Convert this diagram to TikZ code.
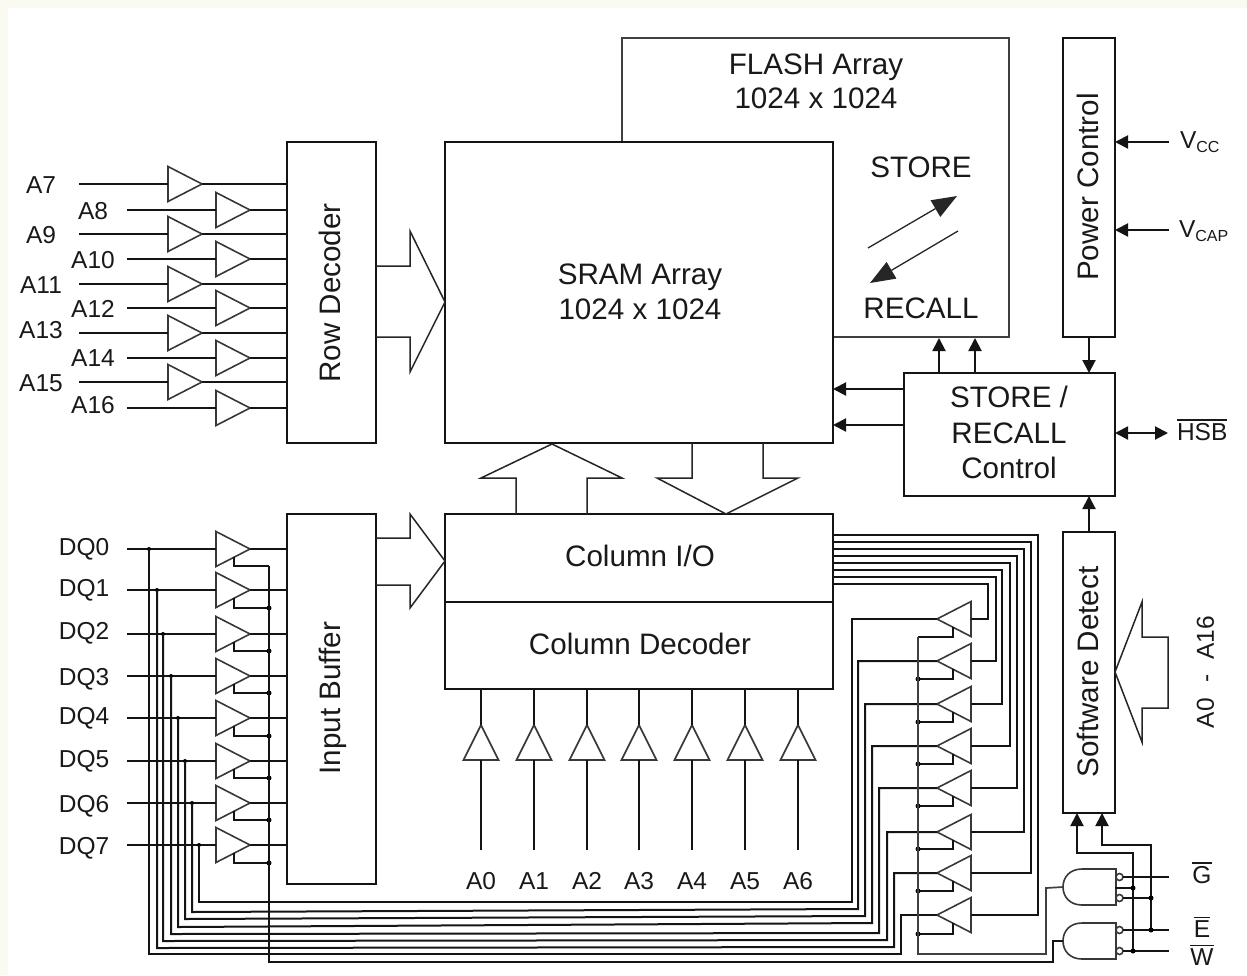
\documentclass[tikz,border=0pt]{standalone}
\usepackage{graphicx}
\usepackage{fontspec}
\setmainfont{Liberation Sans}
\usetikzlibrary{arrows.meta}
\definecolor{creamedge}{HTML}{FBFAF1}
\newcommand\ovl[1]{\leavevmode\vbox{\hrule height 1.4pt\kern 2.2pt\hbox{#1}}}
\newcommand\bufR[3]{\draw[tri] (#2,#3-17.5) -- (#2+34,#3) -- (#2,#3+17.5) -- cycle;
  \coordinate (#1-in) at (#2,#3); \coordinate (#1-out) at (#2+34,#3);}
\newcommand\bufL[3]{\draw[tri] (#2+34,#3-17.5) -- (#2,#3) -- (#2+34,#3+17.5) -- cycle;
  \coordinate (#1-in) at (#2+34,#3); \coordinate (#1-out) at (#2,#3);}
\newcommand\bufU[3]{\draw[tri] (#2-17.5,#3+35) -- (#2,#3) -- (#2+17.5,#3+35) -- cycle;
  \coordinate (#1-in) at (#2,#3+35); \coordinate (#1-out) at (#2,#3);}
\newcommand\gateshape[2]{\draw[tri] (1116,#1) -- (1082,#1) .. controls (1070,#1) and (1063,#1+8) .. (1063,#1+18)
  .. controls (1063,#1+28) and (1070,#1+36) .. (1082,#1+36) -- (1116,#1+36) -- cycle;
  \coordinate (#2) at (1063,#1+18);}
\tikzset{
  box/.style={draw=black!92,line width=2.2pt,fill=white,inner sep=0,outer sep=0,anchor=north west},
  wire/.style={draw=black!92,line width=2pt,line join=miter},
  thinwire/.style={draw=black!75,line width=1.7pt},
  tri/.style={draw=black!78,line width=1.6pt,line join=miter},
  fat/.style={draw=black!85,line width=1.5pt,line join=miter},
  sig/.style={wire,-{Triangle[length=13pt,width=13pt]}},
  big/.style={inner sep=0,outer sep=0,font=\fontsize{29.6}{35}\selectfont,text height=21pt,text depth=0pt,text=black!90},
  small/.style={inner sep=0,outer sep=0,font=\fontsize{24.5}{29}\selectfont,text height=17.6pt,text depth=0pt,text=black!90},
  baselbl/.style={inner sep=0,outer sep=0,font=\fontsize{24.5}{29}\selectfont,text=black!90},
  jdot/.style={circle,fill=black,inner sep=0,minimum size=5pt},
}
\newcommand\subf[1]{{\fontsize{16}{18}\selectfont\raisebox{-4pt}{#1}}}
\begin{document}
\begin{tikzpicture}[x=1pt,y=-1pt]
\useasboundingbox (0,0) rectangle (1247,975);
\fill[creamedge] (0,0) rectangle (1247,975);
\fill[white] (8,8) rectangle (1247,975);

% ---- blocks
\node[box,draw=black!75,line width=1.5pt,minimum width=387pt,minimum height=299pt] (flash) at (622,38) {};
\node[box,minimum width=388pt,minimum height=301pt] (sram) at (445,142) {};
\node[box,minimum width=89pt,minimum height=301pt] (rowdec) at (287,142) {};
\node[box,minimum width=89pt,minimum height=370pt] (inbuf) at (287,514) {};
\node[box,minimum width=388pt,minimum height=88pt] (colio) at (445,514) {};
\node[box,minimum width=388pt,minimum height=87pt] (coldec) at (445,602) {};
\node[box,minimum width=52pt,minimum height=299pt] (power) at (1063,38) {};
\node[box,minimum width=211pt,minimum height=123pt] (ctrl) at (904,373) {};
\node[box,minimum width=52pt,minimum height=281pt] (swdet) at (1063,532) {};

% ---- block texts
\node[big] (t1) at (816,64) {FLASH Array};
\node[big] (t2) at (816,98) {1024 x 1024};
\node[big] (t3) at (921,167) {STORE};
\node[big] (t4) at (921,308) {RECALL};
\node[big] (t5) at (640,274) {SRAM Array};
\node[big] (t6) at (640,309) {1024 x 1024};
\node[big] (t7) at (640,556) {Column I/O};
\node[big] (t8) at (640,644) {Column Decoder};
\node[big] (t9) at (1009,397) {STORE /};
\node[big] (t10) at (1009,433) {RECALL};
\node[big] (t11) at (1009,468) {Control};
\node[big,rotate=90] (t12) at (330,293) {Row Decoder};
\node[big,rotate=90] (t13) at (330,698) {Input Buffer};
\node[big,rotate=90] (t14) at (1088,187) {Power Control};
\node[big,rotate=90] (t15) at (1088,672) {Software Detect};
\node[small,rotate=90] (t16) at (1205,672) {A0\hspace{0.62em}-\hspace{0.62em}A16};

% ---- fat arrows
\draw[fat] (rowdec.east |- 0,266) -- (410,266) -- (410,231) -- (sram.west |- 0,302) -- (410,372) -- (410,337) -- (rowdec.east |- 0,337);
\draw[fat] (inbuf.east |- 0,538) -- (410,538) -- (410,514) -- (colio.west |- 0,561) -- (410,608) -- (410,585) -- (inbuf.east |- 0,585);
\draw[fat] (516,514) -- (516,478) -- (481,478) -- (552,444) -- (622,478) -- (587,478) -- (587,514);
\draw[fat] (692,443) -- (692,478) -- (657,478) -- (726,514) -- (798,478) -- (763,478) -- (763,443);
\draw[fat] (1142,602) -- (1142,637) -- (1168,637) -- (1168,708) -- (1142,708) -- (1142,742) -- (swdet.east |- 0,672) -- cycle;

% ---- store / recall arrows inside flash
\coordinate (s1) at (868,248); \coordinate (s2) at (957,196);
\coordinate (r1) at (958,231); \coordinate (r2) at (870,283);
\draw[draw=black!85,line width=1.3pt,-{Triangle[length=25pt,width=19pt]}] (s1) -- (s2);
\draw[draw=black!85,line width=1.3pt,-{Triangle[length=25pt,width=19pt]}] (r1) -- (r2);

% ---- control arrows
\draw[sig] (ctrl.north -| 939,0) -- (939,338);
\draw[sig] (ctrl.north -| 975,0) -- (975,338);
\draw[sig] (ctrl.west |- 0,389) -- (sram.east |- 0,389);
\draw[sig] (ctrl.west |- 0,425) -- (sram.east |- 0,425);
\draw[sig] (power.south) -- (ctrl.north -| power.south);
\draw[sig] (swdet.north) -- (ctrl.south -| swdet.north);
\coordinate (vcc) at (1169,142); \coordinate (vcap) at (1169,230); \coordinate (hsb) at (1168,433);
\draw[sig] (vcc) -- (power.east |- vcc);
\draw[sig] (vcap) -- (power.east |- vcap);
\draw[wire,{Triangle[length=13pt,width=13pt]}-{Triangle[length=13pt,width=13pt]}] (ctrl.east |- hsb) -- (hsb);
\node[baselbl,anchor=base west] (lvcc) at (1180,148) {V\subf{CC}};
\node[baselbl,anchor=base west] (lvcap) at (1179,237) {V\subf{CAP}};
\node[baselbl,anchor=base west] (lhsb) at (1177,440) {\ovl{HSB}};

% ---- row decoder inputs
\foreach \n/\lx/\ly/\sx/\bx/\y in {A7/41/185/79/168/184,A8/93/211/127/216/210,A9/41/235/79/168/234,A10/93/260/127/216/259,
  A11/41/285/79/168/284,A12/93/309/127/216/308,A13/41/330/79/168/333,A14/93/358/127/216/358,A15/41/383/79/168/382,A16/93/405/127/216/408}{
  \node[small] (l\n) at (\lx,\ly) {\n};
  \coordinate (s\n) at (\sx,\y);
  \bufR{b\n}{\bx}{\y}
  \draw[wire] (s\n) -- (b\n-in);
  \draw[wire] (b\n-out) -- (rowdec.west |- b\n-out);
}

% ---- column decoder inputs
\foreach \n/\x in {A0/481,A1/534,A2/587,A3/639,A4/692,A5/745,A6/798}{
  \node[small] (l\n) at (\x,881) {\n};
  \coordinate (s\n) at (\x,850);
  \bufU{b\n}{\x}{725}
  \draw[wire] (s\n) -- (b\n-in);
  \draw[wire] (b\n-out) -- (coldec.south -| b\n-out);
}

% ---- data lines
\coordinate (enbus) at (918,954);
\coordinate (inbus) at (269,962);
\foreach \n/\ly/\y/\en/\tap/\bl/\br/\vx/\ty/\dy/\ox/\oy in {
  DQ0/547/549/566/149/954/954/901/915/934/1038/535,
  DQ1/588/590/608/157/948/947/894/873/891/1031/542,
  DQ2/631/634/651/163/941/940/887/832/849/1024/549,
  DQ3/677/676/693/171/934/933/879/788/806/1017/556,
  DQ4/716/718/736/178/927/923/872/746/764/1010/563,
  DQ5/759/761/778/185/919/916/865/704/722/1002/570,
  DQ6/804/803/820/192/912/909/858/661/679/996/577,
  DQ7/846/845/863/199/902/902/852/619/637/988/584}{
  \node[small] (l\n) at (84,\ly) {\n};
  \coordinate (s\n) at (127,\y);
  \coordinate (tap\n) at (\tap,\y);
  \bufR{i\n}{216}{\y}
  \bufL{o\n}{937}{\ty}
  \draw[wire] (s\n) -- (i\n-in);
  \draw[wire] (i\n-out) -- (inbuf.west |- i\n-out);
  \node[jdot,minimum size=4pt] at (tap\n) {};
  \draw[wire] (tap\n) -- (\tap,\bl) -- (\vx,\br) -- (\vx,\ty) -- (o\n-out);
  \draw[wire] (colio.east |- 0,\oy) -- (\ox,\oy) -- (\ox,\ty) -- (o\n-in);
  % enables
  \draw[wire] (234,\y+8.2) -- (234,\en) -- (269,\en);
  \draw[wire] (953,\ty+8.2) -- (953,\dy) -- (918,\dy);
}
\foreach \y in {608,651,693,736,778,820,863}{\node[jdot] at (269,\y) {};}
\foreach \y in {679,722,764,806,849,891,934}{\node[jdot] at (918,\y) {};}

% ---- gates
\gateshape{869}{g1}
\gateshape{923}{g2}
\foreach \y/\n in {877/a,898/b,930/c,951/d}{
  \draw[tri] (1119.5,\y) circle (3.5);
  \coordinate (pin\n) at (1123,\y);
}
\coordinate (lG) at (1169,877); \coordinate (lE) at (1169,930); \coordinate (lW) at (1169,951);
\draw[wire] (pina) -- (lG);
\draw[wire] (pinc) -- (lE);
\draw[wire] (pind) -- (lW);
\draw[wire] (pinb) -- (1151,898);
\draw[wire] (1115,888) -- (1133,888);
\draw[sig] (1133,951) -- (1133,853) -- (1077,853) -- (swdet.south -| 1077,0);
\draw[sig] (1151,930) -- (1151,845) -- (1102,845) -- (swdet.south -| 1102,0);
\node[jdot] at (1133,888) {};
\node[jdot] at (1133,951) {};
\node[jdot] at (1151,898) {};
\node[jdot] at (1151,930) {};
\node[baselbl,anchor=base] (tG) at (1202,883) {\ovl{G}};
\node[baselbl,anchor=base] (tE) at (1202,937) {\ovl{E}};
\node[baselbl,anchor=base] (tW) at (1202,965) {\ovl{W}};

% ---- enable buses
\draw[thinwire] (918,637) -- (enbus) -- (1046,954) -- (1046,888) -- (g1);
\draw[wire] (g2) -- (1053,941) -- (1053,962) -- (inbus) -- (269,566);
\end{tikzpicture}
\end{document}
